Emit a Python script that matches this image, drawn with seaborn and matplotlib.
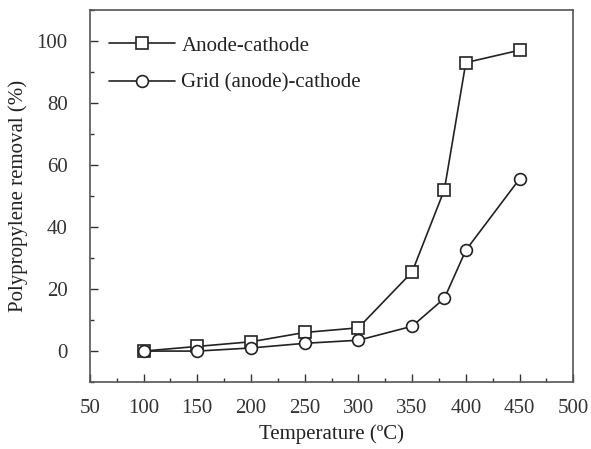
import matplotlib
matplotlib.use("Agg")
import matplotlib.pyplot as plt
import seaborn as sns
import pandas as pd
from matplotlib.ticker import MultipleLocator

temps = [100, 150, 200, 250, 300, 350, 380, 400, 450]
anode_cathode = [0, 1.5, 3, 6, 7.5, 25.5, 52, 93, 97]
grid_cathode = [0, 0, 1, 2.5, 3.5, 8, 17, 32.5, 55.5]
series_names = ["Anode-cathode", "Grid (anode)-cathode"]

df = pd.DataFrame({
    "Temperature": temps * 2,
    "Removal": anode_cathode + grid_cathode,
    "Series": [series_names[0]] * len(temps) + [series_names[1]] * len(temps),
})

sns.set_style("white")
plt.rcParams['font.family'] = ['Liberation Serif', 'DejaVu Serif']

fig = plt.figure(figsize=(5.91, 4.49), dpi=100)
ax = fig.add_axes([0.152, 0.149, 0.818, 0.829])

sns.lineplot(data=df, x="Temperature", y="Removal", hue="Series", style="Series",
             markers={series_names[0]: "s", series_names[1]: "o"}, dashes=False,
             palette={series_names[0]: "#222222", series_names[1]: "#222222"},
             markerfacecolor="white", markeredgecolor="#222222", markeredgewidth=1.2,
             markersize=8.5, linewidth=1.2, ax=ax)

ax.set_xlim(50, 500)
ax.set_ylim(-10, 110)
ax.xaxis.set_major_locator(MultipleLocator(50))
ax.xaxis.set_minor_locator(MultipleLocator(25))
ax.yaxis.set_major_locator(MultipleLocator(20))
ax.yaxis.set_minor_locator(MultipleLocator(10))
ax.tick_params(which="major", direction="in", length=6, width=1, labelsize=15, colors="#333333")
ax.tick_params(axis="x", which="major", pad=12)
ax.tick_params(axis="y", which="major", pad=16)
ax.tick_params(which="minor", direction="in", length=3, width=1, colors="#333333")
ax.tick_params(axis="both", which="both", bottom=True, left=True, top=False, right=False)
for s in ax.spines.values():
    s.set_color("#555555")
    s.set_linewidth(1.2)

ax.set_xlabel("Temperature (ºC)", fontsize=15, color="#222222", labelpad=5)
ax.set_ylabel("Polypropylene removal (%)", fontsize=15, color="#222222", labelpad=6)

leg = ax.legend(loc="upper left", frameon=False, fontsize=15, handlelength=3.2,
                bbox_to_anchor=(0.0, 0.98), labelspacing=0.85, handletextpad=0.3)
for t in leg.get_texts():
    t.set_color("#222222")

fig.savefig("out.png", dpi=100)
